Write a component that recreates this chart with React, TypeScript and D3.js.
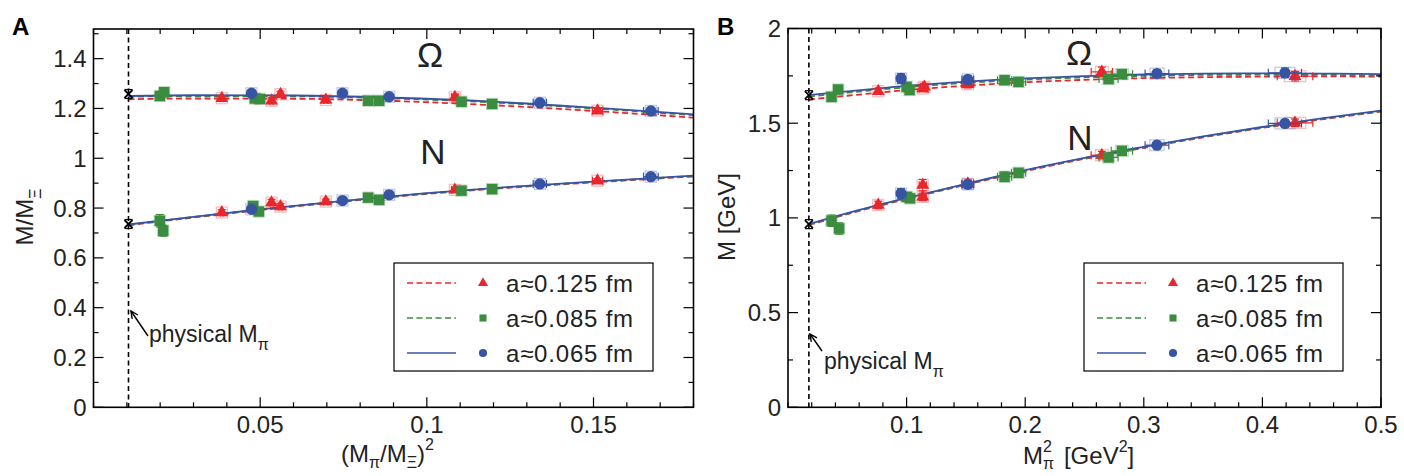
import React from 'react';
import * as d3 from 'd3';

type Pt = [number, number, number, number]; // x, y, xerr, yerr
type XY = [number, number];

const FONT = '"Liberation Sans", Arial, Helvetica, sans-serif';
const RED = '#e8262b';
const GREEN = '#3a8c3e';
const BLUE = '#3753a4';

// ---- panel A : M/MΞ against (Mπ/MΞ)^2 ----
const physA = 0.0105;
const physPtsA: XY[] = [[0.0105, 1.258], [0.0105, 0.736]];

const omegaA125: Pt[] = [
  [0.0385, 1.241, 0.0004, 0.010], [0.0534, 1.231, 0.0005, 0.012], [0.0561, 1.257, 0.0005, 0.012],
  [0.0697, 1.234, 0.0006, 0.010], [0.1084, 1.245, 0.0010, 0.012], [0.1512, 1.191, 0.0015, 0.010],
];
const omegaA085: Pt[] = [
  [0.0199, 1.250, 0.0003, 0.012], [0.0212, 1.265, 0.0003, 0.018], [0.0484, 1.240, 0.0005, 0.010],
  [0.0499, 1.238, 0.0005, 0.010], [0.0824, 1.231, 0.0008, 0.010], [0.0857, 1.231, 0.0008, 0.010],
  [0.1104, 1.227, 0.0010, 0.010], [0.1196, 1.218, 0.0010, 0.008],
];
const omegaA065: Pt[] = [
  [0.0474, 1.261, 0.0005, 0.010], [0.0747, 1.261, 0.0007, 0.010], [0.0887, 1.247, 0.0010, 0.010],
  [0.1339, 1.223, 0.0020, 0.010], [0.1672, 1.190, 0.0022, 0.010],
];
const nucA125: Pt[] = [
  [0.0385, 0.782, 0.0004, 0.012], [0.0534, 0.822, 0.0005, 0.013], [0.0561, 0.806, 0.0005, 0.012],
  [0.0697, 0.826, 0.0006, 0.010], [0.1084, 0.873, 0.0010, 0.008], [0.1512, 0.910, 0.0015, 0.008],
];
const nucA085: Pt[] = [
  [0.0199, 0.749, 0.0003, 0.025], [0.0209, 0.709, 0.0003, 0.022], [0.0479, 0.808, 0.0005, 0.014],
  [0.0496, 0.786, 0.0005, 0.012], [0.0824, 0.842, 0.0008, 0.008], [0.0857, 0.833, 0.0008, 0.010],
  [0.1104, 0.870, 0.0010, 0.008], [0.1196, 0.876, 0.0010, 0.008],
];
const nucA065: Pt[] = [
  [0.0474, 0.795, 0.0005, 0.012], [0.0747, 0.830, 0.0007, 0.008], [0.0887, 0.853, 0.0010, 0.008],
  [0.1339, 0.897, 0.0020, 0.008], [0.1672, 0.926, 0.0022, 0.008],
];

const fitAOmega065: XY[] = [[0.0105, 1.250], [0.03, 1.253], [0.06, 1.252], [0.09, 1.243], [0.12, 1.227], [0.15, 1.203], [0.18, 1.176]];
const fitAOmega085: XY[] = [[0.0105, 1.247], [0.03, 1.250], [0.06, 1.249], [0.09, 1.240], [0.12, 1.224], [0.15, 1.200], [0.18, 1.173]];
const fitAOmega125: XY[] = [[0.0105, 1.237], [0.03, 1.240], [0.06, 1.239], [0.09, 1.230], [0.12, 1.213], [0.15, 1.190], [0.18, 1.163]];
const fitANuc065: XY[] = [[0.0105, 0.734], [0.03, 0.765], [0.05, 0.795], [0.075, 0.829], [0.10, 0.860], [0.125, 0.885], [0.15, 0.906], [0.18, 0.930]];
const fitANuc085: XY[] = [[0.0105, 0.733], [0.03, 0.764], [0.05, 0.794], [0.075, 0.828], [0.10, 0.859], [0.125, 0.884], [0.15, 0.905], [0.18, 0.929]];
const fitANuc125: XY[] = [[0.0105, 0.731], [0.03, 0.762], [0.05, 0.792], [0.075, 0.826], [0.10, 0.857], [0.125, 0.882], [0.15, 0.903], [0.18, 0.927]];

const xTicksA = [0.05, 0.1, 0.15];
const yTicksA = [0, 0.2, 0.4, 0.6, 0.8, 1, 1.2, 1.4];

// ---- panel B : M [GeV] against Mπ^2 [GeV^2] ----
const physB = 0.0176;
const physPtsB: XY[] = [[0.0176, 1.648], [0.0176, 0.967]];

const omegaB125: Pt[] = [
  [0.0761, 1.669, 0.002, 0.015], [0.1136, 1.683, 0.003, 0.015], [0.1150, 1.692, 0.003, 0.015],
  [0.1516, 1.706, 0.005, 0.020], [0.2646, 1.771, 0.009, 0.025], [0.4275, 1.748, 0.015, 0.025],
];
const omegaB085: Pt[] = [
  [0.0367, 1.639, 0.002, 0.015], [0.0423, 1.678, 0.002, 0.020], [0.1000, 1.692, 0.003, 0.020],
  [0.1025, 1.675, 0.003, 0.020], [0.1826, 1.727, 0.006, 0.020], [0.1944, 1.718, 0.006, 0.020],
  [0.2703, 1.733, 0.008, 0.020], [0.2815, 1.759, 0.009, 0.020],
];
const omegaB065: Pt[] = [
  [0.0953, 1.736, 0.003, 0.025], [0.1516, 1.731, 0.005, 0.020], [0.3111, 1.762, 0.010, 0.020],
  [0.4190, 1.766, 0.014, 0.025],
];
const nucB125: Pt[] = [
  [0.0761, 1.068, 0.002, 0.020], [0.1136, 1.173, 0.003, 0.030], [0.1136, 1.111, 0.003, 0.020],
  [0.1516, 1.180, 0.005, 0.020], [0.2646, 1.331, 0.009, 0.020], [0.4275, 1.502, 0.015, 0.020],
];
const nucB085: Pt[] = [
  [0.0367, 0.985, 0.002, 0.030], [0.0431, 0.944, 0.002, 0.030], [0.1001, 1.111, 0.003, 0.020],
  [0.1029, 1.103, 0.003, 0.020], [0.1826, 1.217, 0.006, 0.025], [0.1944, 1.238, 0.006, 0.020],
  [0.2703, 1.319, 0.008, 0.020], [0.2815, 1.354, 0.009, 0.020],
];
const nucB065: Pt[] = [
  [0.0953, 1.129, 0.003, 0.025], [0.1516, 1.177, 0.005, 0.020], [0.3111, 1.384, 0.010, 0.020],
  [0.4190, 1.499, 0.014, 0.020],
];

const fitBOmega065: XY[] = [[0.0176, 1.648], [0.05, 1.668], [0.1, 1.697], [0.15, 1.720], [0.2, 1.737], [0.25, 1.749], [0.3, 1.757], [0.35, 1.762], [0.4, 1.763], [0.45, 1.762], [0.5, 1.759]];
const fitBOmega085: XY[] = [[0.0176, 1.641], [0.05, 1.661], [0.1, 1.690], [0.15, 1.713], [0.2, 1.730], [0.25, 1.742], [0.3, 1.750], [0.35, 1.755], [0.4, 1.756], [0.45, 1.755], [0.5, 1.752]];
const fitBOmega125: XY[] = [[0.0176, 1.625], [0.05, 1.645], [0.1, 1.675], [0.15, 1.698], [0.2, 1.716], [0.25, 1.729], [0.3, 1.738], [0.35, 1.743], [0.4, 1.746], [0.45, 1.747], [0.5, 1.746]];
const fitBNuc065: XY[] = [[0.0176, 0.967], [0.05, 1.025], [0.1, 1.105], [0.15, 1.180], [0.2, 1.252], [0.25, 1.317], [0.3, 1.375], [0.35, 1.430], [0.4, 1.480], [0.45, 1.525], [0.5, 1.566]];
const fitBNuc085: XY[] = [[0.0176, 0.965], [0.05, 1.023], [0.1, 1.103], [0.15, 1.178], [0.2, 1.250], [0.25, 1.315], [0.3, 1.373], [0.35, 1.428], [0.4, 1.478], [0.45, 1.523], [0.5, 1.564]];
const fitBNuc125: XY[] = [[0.0176, 0.962], [0.05, 1.020], [0.1, 1.100], [0.15, 1.175], [0.2, 1.247], [0.25, 1.312], [0.3, 1.370], [0.35, 1.425], [0.4, 1.475], [0.45, 1.520], [0.5, 1.561]];

const xTicksB = [0.1, 0.2, 0.3, 0.4, 0.5];
const yTicksB = [0, 0.5, 1, 1.5, 2];

const legendLabels = ['a≈0.125 fm', 'a≈0.085 fm', 'a≈0.065 fm'];

type Shape = 'tri' | 'sq' | 'circ';
const ensembles: { color: string; shape: Shape; dash: string | null }[] = [
  { color: RED, shape: 'tri', dash: '6,3.5' },
  { color: GREEN, shape: 'sq', dash: '6,3.5' },
  { color: BLUE, shape: 'circ', dash: null },
];

function markerPath(shape: Shape, big: boolean) {
  if (shape === 'tri') return d3.symbol(d3.symbolTriangle, big ? 72 : 44)()!;
  if (shape === 'sq') return d3.symbol(d3.symbolSquare, big ? 110 : 50)()!;
  return d3.symbol(d3.symbolCircle, big ? 100 : 52)()!;
}

type PanelProps = {
  box: { l: number; t: number; r: number; b: number };
  xDomain: [number, number];
  yDomain: [number, number];
  xTicks: number[];
  yTicks: number[];
  xMinorStep: number;
  yMinorStep: number;
  phys: number;
  physPts: XY[];
  fits: XY[][][]; // per ensemble: [omega, nucleon]
  points: Pt[][][]; // per ensemble: [omega, nucleon]
  omegaPos: XY;
  nPos: XY;
  annot: { x: number; y: number; ax: number; ay: number; hx: number; hy: number };
  legend: { x: number; y: number };
};

function Panel(p: PanelProps) {
  const { box } = p;
  const x = d3.scaleLinear().domain(p.xDomain).range([box.l, box.r]);
  const y = d3.scaleLinear().domain(p.yDomain).range([box.b, box.t]);
  const line = d3.line<XY>().x(d => x(d[0])).y(d => y(d[1])).curve(d3.curveMonotoneX);

  const xMinor = d3.range(p.xDomain[0], p.xDomain[1] + 1e-9, p.xMinorStep);
  const yMinor = d3.range(p.yDomain[0], p.yDomain[1] + 1e-9, p.yMinorStep);
  const isMajor = (v: number, list: number[]) => list.some(t => Math.abs(t - v) < 1e-9);

  const tick = 'black';
  return (
    <g>
      {/* fits */}
      {[0, 1, 2].map(e =>
        p.fits[e].map((f, k) => (
          <path key={`f${e}${k}`} d={line(f)!} fill="none" stroke={ensembles[e].color}
            strokeWidth={1.8} strokeDasharray={ensembles[e].dash ?? undefined} />
        ))
      )}
      {/* physical line */}
      <line x1={x(p.phys)} x2={x(p.phys)} y1={box.t} y2={box.b} stroke="black" strokeWidth={1.6} strokeDasharray="5,3.5" />

      {/* data points */}
      {[0, 1, 2].map(e =>
        p.points[e].flat().map((d, i) => {
          const cx = x(d[0]);
          const cy = y(d[1]);
          const x0 = x(d[0] - d[2]);
          const x1 = x(d[0] + d[2]);
          const y0 = y(d[1] - d[3]);
          const y1 = y(d[1] + d[3]);
          const hx = Math.max(5.5, (x1 - x0) * 0.3);
          const hy = Math.max(5.5, (y0 - y1) * 0.3);
          const c = ensembles[e].color;
          return (
            <g key={`p${e}-${i}`}>
              <rect x={cx - hx} y={cy - hy} width={2 * hx} height={2 * hy} fill="none"
                stroke={c} strokeOpacity={0.3} strokeWidth={1.3} />
              <line x1={x0} x2={x1} y1={cy} y2={cy} stroke={c} strokeWidth={1.2} />
              <line x1={x0} x2={x0} y1={cy - 4} y2={cy + 4} stroke={c} strokeWidth={1.2} />
              <line x1={x1} x2={x1} y1={cy - 4} y2={cy + 4} stroke={c} strokeWidth={1.2} />
              <line x1={cx} x2={cx} y1={y0} y2={y1} stroke={c} strokeWidth={1.2} />
              <line x1={cx - 4} x2={cx + 4} y1={y0} y2={y0} stroke={c} strokeWidth={1.2} />
              <line x1={cx - 4} x2={cx + 4} y1={y1} y2={y1} stroke={c} strokeWidth={1.2} />
              <path d={markerPath(ensembles[e].shape, true)} transform={`translate(${cx},${cy})`} fill={c} />
            </g>
          );
        })
      )}

      {/* physical points */}
      {p.physPts.map((d, i) => {
        const cx = x(d[0]);
        const cy = y(d[1]);
        return (
          <g key={`ph${i}`} stroke="black" strokeWidth={1.8}>
            <line x1={cx - 4} x2={cx + 4} y1={cy - 4} y2={cy + 4} />
            <line x1={cx - 4} x2={cx + 4} y1={cy + 4} y2={cy - 4} />
            <line x1={cx - 4} x2={cx + 4} y1={cy - 4.5} y2={cy - 4.5} strokeWidth={1.2} />
            <line x1={cx - 4} x2={cx + 4} y1={cy + 4.5} y2={cy + 4.5} strokeWidth={1.2} />
          </g>
        );
      })}

      {/* frame and ticks */}
      <rect x={box.l} y={box.t} width={box.r - box.l} height={box.b - box.t} fill="none" stroke="black" strokeWidth={1.6} />
      {xMinor.map((v, i) => {
        const len = isMajor(v, p.xTicks) ? 10 : 5;
        return (
          <g key={`xt${i}`} stroke={tick} strokeWidth={1.2}>
            <line x1={x(v)} x2={x(v)} y1={box.b} y2={box.b - len} />
            <line x1={x(v)} x2={x(v)} y1={box.t} y2={box.t + len} />
          </g>
        );
      })}
      {yMinor.map((v, i) => {
        const len = isMajor(v, p.yTicks) ? 10 : 5;
        return (
          <g key={`yt${i}`} stroke={tick} strokeWidth={1.2}>
            <line x1={box.l} x2={box.l + len} y1={y(v)} y2={y(v)} />
            <line x1={box.r} x2={box.r - len} y1={y(v)} y2={y(v)} />
          </g>
        );
      })}
      {p.xTicks.map(v => (
        <text key={`xl${v}`} x={x(v)} y={box.b + 26} textAnchor="middle" fontSize={24} fontFamily={FONT} fill="#222">{String(v)}</text>
      ))}
      {p.yTicks.map(v => (
        <text key={`yl${v}`} x={box.l - 7} y={y(v) + 8.5} textAnchor="end" fontSize={24} fontFamily={FONT} fill="#222">{String(v)}</text>
      ))}

      {/* curve labels */}
      <text x={p.omegaPos[0]} y={p.omegaPos[1]} textAnchor="middle" fontSize={35} fontFamily={FONT} fill="#222">Ω</text>
      <text x={p.nPos[0]} y={p.nPos[1]} textAnchor="middle" fontSize={35} fontFamily={FONT} fill="#222">N</text>

      {/* physical annotation */}
      <g stroke="black" strokeWidth={1.4} fill="none">
        <line x1={p.annot.ax} y1={p.annot.ay} x2={p.annot.hx} y2={p.annot.hy} />
        {(() => {
          const ang = Math.atan2(p.annot.ay - p.annot.hy, p.annot.ax - p.annot.hx);
          const a1 = ang + 0.45;
          const a2 = ang - 0.45;
          return (
            <path d={`M${p.annot.hx + 8 * Math.cos(a1)},${p.annot.hy + 8 * Math.sin(a1)}L${p.annot.hx},${p.annot.hy}L${p.annot.hx + 8 * Math.cos(a2)},${p.annot.hy + 8 * Math.sin(a2)}`} />
          );
        })()}
      </g>
      <text x={p.annot.x} y={p.annot.y} fontSize={23} fontFamily={FONT} fill="#222">
        physical M<tspan fontSize={16} dy={8}>π</tspan>
      </text>

      {/* legend */}
      <g transform={`translate(${p.legend.x},${p.legend.y})`}>
        <rect x={0} y={0} width={259} height={108} fill="white" stroke="black" strokeWidth={1.2} />
        {ensembles.map((en, i) => {
          const cy = 20 + i * 35;
          return (
            <g key={`lg${i}`}>
              <line x1={13} x2={62} y1={cy} y2={cy} stroke={en.color} strokeWidth={1.5} strokeDasharray={en.dash ?? undefined} />
              <path d={markerPath(en.shape, false)} transform={`translate(${89},${cy})`} fill={en.color} />
              <text x={112} y={cy + 9} fontSize={24} fontFamily={FONT} letterSpacing={0.8} fill="#222">{legendLabels[i]}</text>
            </g>
          );
        })}
      </g>
    </g>
  );
}

export default function App() {
  return (
    <svg width={1404} height={476} style={{ position: 'absolute', left: 0, top: 0, background: 'white' }}>
      <Panel
        box={{ l: 93.5, t: 29, r: 693.5, b: 407.3 }}
        xDomain={[0, 0.18]}
        yDomain={[0, 1.519]}
        xTicks={xTicksA}
        yTicks={yTicksA}
        xMinorStep={0.01}
        yMinorStep={0.1}
        phys={physA}
        physPts={physPtsA}
        fits={[[fitAOmega125, fitANuc125], [fitAOmega085, fitANuc085], [fitAOmega065, fitANuc065]]}
        points={[[omegaA125, nucA125], [omegaA085, nucA085], [omegaA065, nucA065]]}
        omegaPos={[430, 67]}
        nPos={[433, 164]}
        annot={{ x: 149, y: 342, ax: 148, ay: 336, hx: 131, hy: 311 }}
        legend={{ x: 394, y: 263 }}
      />
      <Panel
        box={{ l: 788, t: 28.5, r: 1381, b: 407.3 }}
        xDomain={[0, 0.5]}
        yDomain={[0, 2]}
        xTicks={xTicksB}
        yTicks={yTicksB}
        xMinorStep={0.02}
        yMinorStep={0.25}
        phys={physB}
        physPts={physPtsB}
        fits={[[fitBOmega125, fitBNuc125], [fitBOmega085, fitBNuc085], [fitBOmega065, fitBNuc065]]}
        points={[[omegaB125, nucB125], [omegaB085, nucB085], [omegaB065, nucB065]]}
        omegaPos={[1079, 65]}
        nPos={[1080, 150]}
        annot={{ x: 824, y: 369, ax: 822, ay: 351, hx: 810, hy: 334 }}
        legend={{ x: 1084, y: 263 }}
      />

      {/* panel letters */}
      <text x={12} y={35} fontSize={24} fontWeight="bold" fontFamily={FONT}>A</text>
      <text x={717} y={35} fontSize={24} fontWeight="bold" fontFamily={FONT}>B</text>

      {/* axis titles */}
      <text transform="translate(33,217) rotate(-90)" textAnchor="middle" fontSize={24} fontFamily={FONT} fill="#222">
        M/M<tspan fontSize={16} dy={8}>Ξ</tspan>
      </text>
      <text transform="translate(735,217) rotate(-90)" textAnchor="middle" fontSize={24} fontFamily={FONT} fill="#222">
        M [GeV]
      </text>
      <text x={341} y={462} fontSize={24} fontFamily={FONT} fill="#222">
        (M<tspan fontSize={16} dy={6}>π</tspan>
        <tspan dy={-6}>/M</tspan>
        <tspan fontSize={16} dy={6}>Ξ</tspan>
        <tspan dy={-6}>)</tspan>
        <tspan fontSize={16} dy={-12}>2</tspan>
      </text>
      <text x={1023} y={464} fontSize={24} fontFamily={FONT} fill="#222">
        M<tspan fontSize={16} dy={-12}>2</tspan>
        <tspan fontSize={16} dx={-9} dy={17}>π</tspan>
        <tspan dx={10} dy={-5}>[GeV</tspan>
        <tspan fontSize={16} dy={-12}>2</tspan>
        <tspan dy={12}>]</tspan>
      </text>
    </svg>
  );
}
